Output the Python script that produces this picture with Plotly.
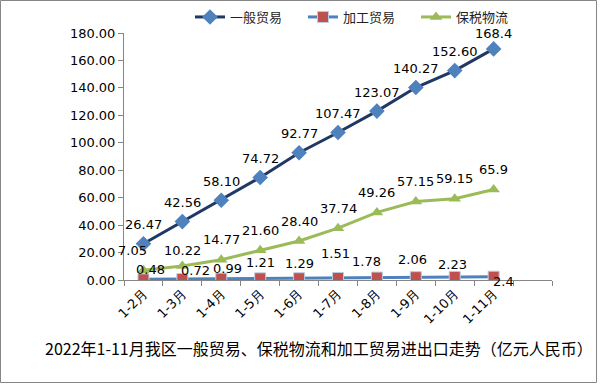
import plotly.graph_objects as go

months = ["1-2月", "1-3月", "1-4月", "1-5月", "1-6月", "1-7月", "1-8月", "1-9月", "1-10月", "1-11月"]
general_trade = [26.47, 42.56, 58.10, 74.72, 92.77, 107.47, 123.07, 140.27, 152.60, 168.4]
processing_trade = [0.48, 0.72, 0.99, 1.21, 1.29, 1.51, 1.78, 2.06, 2.23, 2.4]
bonded_logistics = [7.05, 10.22, 14.77, 21.60, 28.40, 37.74, 49.26, 57.15, 59.15, 65.9]
y_ticks = [0, 20, 40, 60, 80, 100, 120, 140, 160, 180]
title_text = "2022年1-11月我区一般贸易、保税物流和加工贸易进出口走势（亿元人民币）"


def fmt(vals):
    return [f"{v:.2f}" for v in vals[:-1]] + [f"{vals[-1]:g}"]


NUM_FONT = "DejaVu Sans"
CJK_FONT = "Noto Sans CJK SC"

fig = go.Figure()
fig.add_trace(go.Scatter(
    x=months, y=general_trade, name="一般贸易", mode="lines+markers",
    line=dict(color="#1F3864", width=3),
    marker=dict(symbol="diamond", size=12, color="#4F81BD"),
))
fig.add_trace(go.Scatter(
    x=months, y=processing_trade, name="加工贸易", mode="lines+markers",
    line=dict(color="#4F81BD", width=3),
    marker=dict(symbol="square", size=11, color="#C0504D",
                line=dict(color="#B9CDE5", width=1)),
))
fig.add_trace(go.Scatter(
    x=months, y=bonded_logistics, name="保税物流", mode="lines+markers",
    line=dict(color="#9BBB59", width=3),
    marker=dict(symbol="triangle-up", size=11, color="#9BBB59"),
))

# data labels (offsets are style only)
proc_shift = [(7, 10), (13, 9), (6, 10), (0, 16), (0, 15), (-3, 24), (-10, 16), (-3, 18), (-2, 12), (10, -5)]
annotations = []
for i, (m, v, t) in enumerate(zip(months, general_trade, fmt(general_trade))):
    annotations.append(dict(x=m, y=v, text=t, showarrow=False, yshift=19 if i < 9 else 15,
                            font=dict(family=NUM_FONT, size=13, color="#000")))
for i, (m, v, t) in enumerate(zip(months, bonded_logistics, fmt(bonded_logistics))):
    annotations.append(dict(x=m, y=v, text=t, showarrow=False,
                            xshift=-11 if i == 0 else 0,
                            yshift=20 if i not in (1,) else 15,
                            font=dict(family=NUM_FONT, size=13, color="#000")))
for i, (m, v, t) in enumerate(zip(months, processing_trade, fmt(processing_trade))):
    dx, dy = proc_shift[i]
    annotations.append(dict(x=m, y=v, text=t, showarrow=False, xshift=dx, yshift=dy,
                            font=dict(family=NUM_FONT, size=13, color="#000")))

W, H = 602, 384
L, R, T, B = 124, 50, 33, 104
pw, ph = W - L - R, H - T - B

annotations.append(dict(x=(319 - L) / pw, xref="paper", y=(H - B - 348) / ph, yref="paper",
                        yanchor="middle", xanchor="center", showarrow=False, text=title_text,
                        font=dict(family=CJK_FONT, size=16, color="#000")))
fig.update_layout(annotations=annotations)

fig.add_shape(type="rect", xref="paper", yref="paper",
              x0=(0.5 - L) / pw, x1=(596.5 - L) / pw,
              y0=(H - B - 382.5) / ph, y1=(H - B - 0.5) / ph,
              line=dict(color="#868686", width=1), fillcolor="rgba(0,0,0,0)", layer="below")

fig.update_layout(
    width=W, height=H,
    margin=dict(l=L, r=R, t=T, b=B, pad=0, autoexpand=False),
    paper_bgcolor="white", plot_bgcolor="white",
    showlegend=True,
    legend=dict(orientation="h", x=(190 - L) / pw, xanchor="left", y=(H - B - 17) / ph,
                yanchor="middle", font=dict(family=CJK_FONT, size=13, color="#222"),
                entrywidth=68, itemwidth=30, bgcolor="rgba(0,0,0,0)"),
    xaxis=dict(type="category", categoryarray=months + [" "], categoryorder="array",
               range=[-0.5, 10.5], tickson="boundaries", ticks="outside", ticklen=5,
               tickcolor="#868686", showline=True, linecolor="#868686", linewidth=1,
               showgrid=False, zeroline=False, tickangle=-45, automargin=False,
               tickfont=dict(family=NUM_FONT, size=13, color="#000")),
    yaxis=dict(range=[0, 180], tickvals=y_ticks, tickformat=".2f", ticks="outside", ticklen=5,
               tickcolor="#868686", showline=True, linecolor="#868686", linewidth=1,
               showgrid=False, zeroline=False, automargin=False,
               tickfont=dict(family=NUM_FONT, size=13, color="#000")),
)

fig.write_html("out.html", config={"displayModeBar": False},
               post_script="document.body.style.margin='0';document.body.style.padding='0';")
